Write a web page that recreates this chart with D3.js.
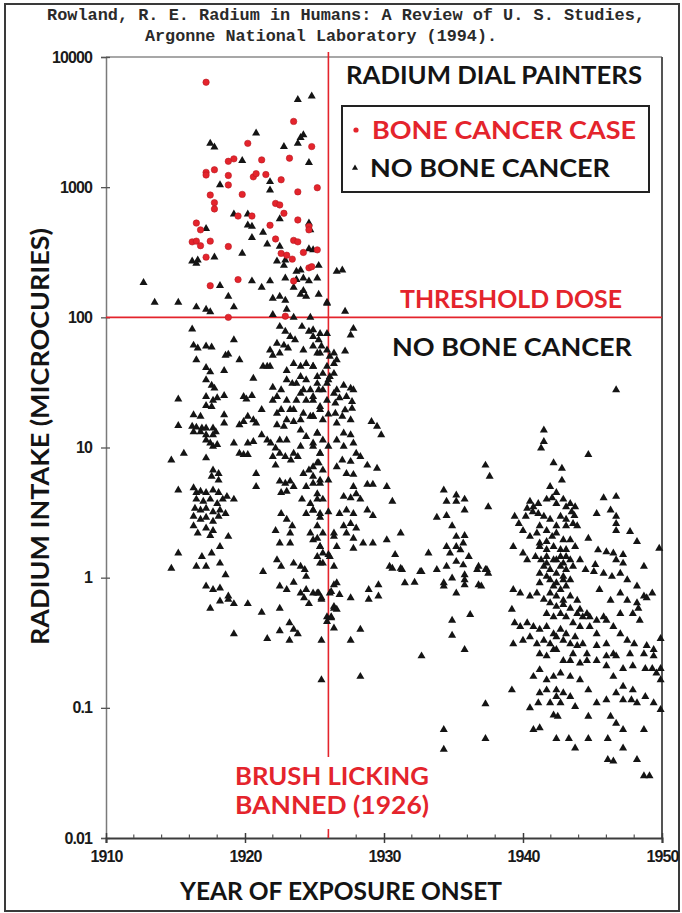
<!DOCTYPE html>
<html><head><meta charset="utf-8">
<script src="https://cdn.jsdelivr.net/npm/d3@7"></script>
<style>body{margin:0;background:#fff}svg{display:block}</style>
</head><body>
<svg id="chart" width="682" height="913"></svg>
<script>
// ---------- DATA ----------
const titleLines = ["Rowland, R. E. Radium in Humans: A Review of U. S. Studies,", "Argonne National Laboratory (1994)."];
const xTicks = [1910, 1920, 1930, 1940, 1950];
const xMinorTicks = [1912,1914,1916,1918,1922,1924,1926,1928,1932,1934,1936,1938,1942,1944,1946,1948];
const yTicks = [0.01, 0.1, 1, 10, 100, 1000, 10000];
const yTickLabels = ["0.01", "0.1", "1", "10", "100", "1000", "10000"];
const thresholdDose = 100;
const banYear = 1926;

// bone cancer cases [year of exposure onset, radium intake µCi]
const boneCancerCases = [[1917.2,6400],[1923.5,3200],[1920.2,2170],[1924.8,2050],[1923.2,1670],[1919.2,1650],[1918.8,1580],[1921.2,1620],[1917.2,1300],[1917.8,1360],[1917.2,1240],[1918.8,1230],[1918.8,1040],[1920.6,1200],[1920.8,1270],[1921.5,1250],[1922.6,1140],[1925.2,990],[1923.8,920],[1917.5,870],[1919.8,880],[1917.8,760],[1917.8,680],[1922.2,750],[1922.5,730],[1922.8,630],[1919.5,600],[1920.5,600],[1923.8,560],[1916.5,530],[1916.8,470],[1921.8,510],[1924.6,500],[1924.6,470],[1922.2,400],[1916.2,380],[1916.5,385],[1916.8,355],[1917.5,385],[1923.5,390],[1923.8,380],[1918.8,350],[1922.6,310],[1923,300],[1923.4,280],[1924.2,315],[1917.2,290],[1925.2,330],[1924.6,240],[1924.8,245],[1919.5,195],[1917.5,175],[1923.5,190],[1918.8,100],[1922.9,102]];

// no bone cancer, onset 1912-1919
const noCancerEarly = [[1912.7,185],[1913.5,130],[1915.2,130],[1916.5,120],[1917.2,115],[1917.5,110],[1918.8,145],[1919.2,120],[1917.5,2170],[1917.8,2030],[1919.8,1600],[1918.2,1040],[1919.2,620],[1917.2,480],[1919.8,310],[1917.8,290],[1916.2,270],[1916.6,275],[1916.5,260],[1918.2,175],
[1916.2,81],[1916.3,61],[1916.6,58],[1917.2,60],[1917.6,59],[1916.5,47],[1917.2,41],[1917.5,38],[1918.5,39],[1917.2,33],[1917.6,30],[1917.8,28.5],[1917.2,24.6],[1917.7,23],[1918,24],[1915.2,23.5],[1918.5,25],[1917.2,21],[1917.6,20.6],[1916.3,17.8],[1916.8,17.3],[1915.2,14.7],[1916.2,14.5],[1916.5,14.3],[1916.9,14.1],[1917.2,14.1],[1917.7,14.1],[1917.9,13.2],[1916.3,13.2],[1916.8,13.2],[1917.2,12.5],[1917.7,12.5],[1918.5,17.8],[1918.5,15.4],[1917.2,11.4],[1917.5,10.8],[1917.7,10.2],[1918,10.5],[1914.7,8],[1915.6,9],[1917.2,8.3],[1917.7,6.7],[1918.1,6.3],[1917.6,6],[1918.1,5.6],[1915.2,4.7],[1916.3,4.9],[1916.5,4.5],[1916.8,4.6],[1917.2,4.5],[1917.7,4.7],[1918.1,4.5],[1918.7,4.2],[1919.2,4],[1916.5,4],[1917,3.85],[1917.5,4],[1918,3.7],[1918.4,4],[1916.4,3.4],[1916.8,3.3],[1917.2,3.4],[1917.7,3.2],[1918.2,3.3],[1918.6,3.1],[1916.3,2.95],[1916.8,2.8],[1917.2,2.9],[1917.7,2.7],[1918.1,2.95],[1916.3,2.5],[1916.6,2.2],[1917.2,2.4],[1917.7,2.3],[1917.5,2.1],[1918.8,2.07],[1918.2,1.73],[1915.2,1.54],[1914.7,1.18],[1916.5,1.22],[1916.9,1.45],[1917.2,1.22],[1917.6,1.54],[1918.2,1.29],[1918.6,1.05],[1917.2,0.86],[1917.7,0.81],[1918.2,0.83],[1918.8,0.72],
[1919.2,67],[1919.6,47],[1918.6,51],[1918.8,52],[1919.9,24.6],[1919.6,14.9],[1919.9,15.8],[1919.2,10.8],[1919.6,9],[1919.9,8.8],
[1917.5,0.58],[1918.2,0.66],[1918.8,0.68],[1919.2,0.63],[1919.2,0.37]];

// no bone cancer, onset 1920-1926
const noCancerMid = [[1923.8,4700],[1924.8,5000],[1920.8,2600],[1922.8,2050],[1924,2400],[1924.2,2520],[1923.8,2170],[1924.6,1540],[1921.8,1100],[1921.8,950],[1920.2,620],[1920.2,510],[1920.5,500],[1921.3,450],[1920.5,410],[1922.5,570],[1924.6,530],[1924.7,470],[1921.6,365],[1922.5,350],[1924.6,335],[1924.9,330],[1922.3,270],[1922.8,250],[1922.9,275],[1923.7,225],[1924,230],[1925.3,250],[1922.9,200],[1923.7,195],[1924.2,200],[1924.6,190],[1925.2,200],[1920.5,190],[1921.2,170],[1921.8,190],[1922,140],[1922.5,145],[1922.9,135],[1923.5,170],[1924,150],[1924.2,160],[1924.4,145],[1925.3,150],[1922,105],[1923,115],[1923.5,100],[1924.7,100],[1925.9,130],
[1920.6,34],[1920.1,23.5],[1920.5,25],[1921.2,19.5],[1920.2,17.3],[1920.6,16.3],[1920.8,15.4],[1920.2,10.8],[1920.6,11.1],[1920.2,8.8],[1920.8,6.3],[1920.8,5],[1921.2,12.5],[1921.6,11.4],[1921.85,10.8],[1922.2,9.9],[1922.5,9],[1922.9,8.5],[1923.3,8],[1923.5,9],[1923.8,8.5],[1921.3,42],[1921.6,42],[1921.8,42],[1922,29],[1922,23],[1922.3,24.6],[1922.6,27.7],[1922.3,18.3],[1922.6,19.5],[1922.3,14.9],[1922.8,14.5],[1923,16.3],[1923.5,15.8],[1923.5,19.5],[1924,16.3],[1924.2,18.3],[1924.7,17.3],[1923,33],[1923.4,31],[1924,35],[1924.4,33],[1924,26],[1924.7,27.7],[1924.4,23],[1924.9,23],[1923.5,44],[1924,42],[1924.4,44],[1924.9,42],[1922.5,85],[1922.9,78],[1923.25,71],[1923.6,67],[1924.1,85],[1924.6,78],[1924.9,71],[1925.3,67],[1922.3,63],[1922.8,61],[1923.1,58],[1922,51],[1922.5,53],[1924.2,56],[1925.2,53],[1925.5,60],[1925.9,75],[1925.9,56],[1925.9,42],[1925.9,31],[1925.9,23],
[1922.5,5.5],[1922.9,5.3],[1923.25,5.5],[1923.5,5],[1922.6,4.5],[1923,4.6],[1922.2,7.3],[1924.2,6.3],[1924.6,6.7],[1924.9,7.1],[1925.3,7.6],[1925.4,9],[1924.4,5],[1924.9,5.3],[1925.4,5.6],[1924.1,4],[1924.7,3.7],[1925.2,4],[1924.4,3.1],[1924.9,3.3],[1925.4,3.1],[1922.6,3.1],[1923,2.8],[1923.4,2.5],[1923.25,2.2],[1922.2,2.3],[1922.5,1.84],[1923.25,1.84],[1923.5,1.29],[1924,1.22],[1924.3,1.15],[1924.4,1.02],[1922.3,1.37],[1922.6,1.22],[1921.3,1.11],[1924.7,2.2],[1925.2,2],[1925.4,1.73],[1925.6,1.54],[1925.4,1.29],[1922.5,0.86],[1923,0.81],[1923.5,0.92],[1924,0.76],[1924.4,0.81],[1924.9,0.76],
[1921.8,56],[1923,39],[1923.7,31],[1924.2,27.7],[1923,23],[1923.7,23],[1923.25,19.5],[1924,13.6],[1924.4,12.1],[1924.9,10.8],[1923,11.4],[1922.5,11.4],[1922,8.5],[1924,10.2],[1925.2,12.9],[1925.4,19.5],[1925.3,27.7],[1925.2,35],[1924.9,17.3],
[1920.2,0.63],[1921.2,0.54],[1921.6,0.34],[1922.5,0.58],[1923.2,0.45],[1922.5,0.39],[1923.5,0.4],[1923.2,0.33],[1923.8,0.37],[1924.25,0.7],[1924.6,0.63],[1925.3,0.76],[1925.5,0.7],[1925.5,0.33],[1925.5,0.164],[1925.9,0.46],
[1924.9,80],[1925.4,75],[1924.9,60],[1925.4,53],[1924.9,42],[1925.6,37],[1925.2,31],[1925.6,27.7],[1924.9,24.6],[1925.4,20.6],[1924.9,17.3],[1925.6,16.3],[1925.2,12.9],[1925.6,11.4],[1924.9,10.2],[1925.4,9],[1925.2,7.6],[1925.6,6.7],[1924.9,6],[1925.4,5.3],[1925.2,4.4],[1925.6,4],[1924.9,3.3],[1925.4,2.9],[1925.2,2.5],[1925.6,2.2],[1924.9,1.95],[1925.4,1.73],[1925.2,1.45],[1925.6,1.29],
[1925.9,128],[1925.2,0.76],[1925.5,0.68],[1925.9,0.5]];

// no bone cancer, onset 1926-1938
const noCancerLate = [[1926.6,225],[1927,230],[1926.1,50],[1926.4,44],[1926.1,35],[1926.4,26],[1926.4,2.07],[1926.6,1.73],[1926.1,1.45],[1926.4,1.22],[1926.6,0.91],[1926.1,0.76],[1926.2,0.5],[1926.4,0.58],[1926.4,0.41],
[1927.2,111],[1927.8,82],[1927.6,73],[1927.2,55],[1926.4,53],[1926.6,47],[1926.4,37],[1927.1,30],[1927.6,28.5],[1927.8,27.7],[1926.6,27.7],[1926.8,24],[1927.3,24.6],[1927.7,22.5],[1926.5,21.9],[1927.2,19.4],[1927.7,20],[1926.5,18.3],[1927,17.3],[1927.6,16.3],[1926.6,15.4],[1929.1,15.8],[1929.5,14.5],[1929.8,12.5],[1927.1,12.9],[1927.6,12.5],[1927.8,10.8],[1927.1,10.2],[1926.6,11.4],[1928,9],[1928.3,8.5],[1927.6,7.8],[1927,8],[1926.6,7.1],[1928.8,7.3],[1929.5,6.9],[1927.3,6.3],[1927.8,6.2],[1928.8,5.2],[1929.2,5.2],[1930.2,5],[1930.6,3.85],[1927.8,5],[1928,4.4],[1927.1,4.2],[1927.6,4.1],[1928.3,4],[1927.3,3.3],[1927.8,3.1],[1928.8,3.3],[1929.2,3],[1926.8,3.1],[1927.6,2.6],[1927.1,2.5],[1928,2.4],[1927.3,2.2],[1927.8,2],[1928.5,1.84],[1929.2,1.84],[1930.2,1.95],[1931.2,2.2],[1927.8,1.68],[1926.4,2.2],[1930.8,1.5],[1930.4,1.22],[1931.2,1.18],[1932.6,1.11],[1933.2,1.54],[1933.8,1.15],[1934.5,1.22],[1935.2,1.73],[1935.7,1.84],[1934.3,4.7],[1934.5,3.85],[1935.2,4.3],[1935.8,4],[1935.2,3.85],[1933.8,2.9],[1934.5,3],[1935.8,3.3],[1934.9,2.5],[1935.2,2.07],[1935.8,2.1],[1934.5,1.73],[1934.75,1.54],[1935.5,1.63],[1936.1,1.45],[1935.2,1.33],[1935.7,1.25],[1937.3,7.3],[1937.6,6],[1937.5,3.5],[1936.7,1.15],
[1926,33],[1926,18],[1926,10.2],[1926,5.6],[1926,3.2],[1926,1.5],
[1926.4,0.88],[1926.2,0.78],[1926.8,0.74],[1927.6,0.7],[1926.4,0.6],[1926.6,0.57],[1926.2,0.49],[1927.6,0.33],[1928.3,0.4],[1928.3,0.174],[1928.9,0.81],[1928.9,0.68],[1929.6,0.88],[1929.6,0.72],[1930.6,1.18],[1931.3,1.15],[1931.5,0.91],[1932.2,0.92],[1932.7,1.11],[1934.3,0.91],[1934.3,0.86],[1934.9,0.99],[1935.2,0.76],[1935.8,1.05],[1935.8,0.96],[1935.8,0.88],[1936.8,1.22],[1936.8,0.88],[1937.4,1.15],[1934.9,0.47],[1936.2,0.52],[1934.9,0.36],[1935.8,0.28],[1932.7,0.25],[1937.3,0.107],[1937.3,0.058],[1934.3,0.068],[1934.3,0.048],[1937.5,1.08],[1937,0.86]];

// no bone cancer, onset 1938-1950
const noCancer1940s = [[1946.7,27.7],[1941.5,13.6],[1941.3,9.9],[1941.5,11.1],[1944.7,8.8],[1942.2,7.6],[1942.8,6.9],[1942.8,5.6],[1941.95,5],[1942.4,4.5],[1942.9,4],[1943.4,3.7],[1943.75,3.5],[1940.5,3.85],[1940.3,3.4],[1940.7,3.2],[1941.1,3.1],[1940.2,2.95],[1939.4,2.95],[1939.7,2.6],[1941.5,2.95],[1941.95,2.8],[1942.7,2.95],[1943.1,2.8],[1943.7,3],[1943.6,2.6],[1945.8,4.1],[1946.7,4.2],[1945.3,3.1],[1946.3,3.3],[1946.7,2.95],[1946.7,2.6],[1946.7,2.3],[1947.7,2.26],[1948.2,1.89],[1944.7,2],[1945.4,1.63],[1946,1.58],[1946.5,1.54],[1947.2,1.5],[1946.7,1.37],[1947.2,1.29],[1949.8,1.68],[1948.7,1.22],[1939.3,1.73],[1940,1.54],[1940.5,2.07],[1940,2.3],[1941,2.2],[1941.2,1.84],[1941.7,1.89],[1942.1,2.07],[1942.4,2.2],[1942.9,1.95],[1943.4,1.95],[1943.75,1.73],[1944.1,1.37],[1944.5,1.15],[1945.1,1.11],[1943.6,1.22],[1940.3,1.37],[1940.9,1.45],[1941.3,1.37],[1941.7,1.29],[1942.4,1.37],[1942.9,1.29],[1943.4,1.37],[1941.2,1.08],[1941.7,1.02],[1942.4,1.08],[1942.9,0.96],[1941.2,0.91],[1942.2,0.86],[1942.7,0.81],[1943.1,0.86],[1939.3,0.81],[1939.8,0.76],[1940.5,0.72],[1941,0.76],[1941.5,0.68],[1941.95,0.64],[1942.4,0.6],[1942.9,0.62],[1943.4,0.58],[1943.9,0.53],[1944.3,0.5],[1944.8,0.5],[1945.3,0.47],[1945.8,0.5],[1946,0.47],[1946.5,0.42],[1947,0.37],[1947.5,0.33],[1948,0.31],[1948.9,0.3],[1949.4,0.28],[1948.7,0.72],[1948.9,0.7],[1949.3,0.76],[1948.2,0.64],[1948.3,0.58],[1949.9,0.34],[1939.2,0.57],[1939.4,0.45],[1939.8,0.42],[1940.3,0.45],[1940.75,0.42],[1941.2,0.4],[1939.3,0.31],[1940,0.33],[1940.5,0.35],[1941,0.31],[1941.5,0.33],[1941.95,0.31],[1942.4,0.35],[1942.9,0.33],[1943.4,0.31],[1943.9,0.3],[1944.3,0.31],[1941.2,0.26],[1941.7,0.25],[1942.2,0.28],[1942.9,0.23],[1943.6,0.26],[1944.6,0.26],[1945.3,0.23],[1946,0.25],[1946,0.21],[1946.7,0.25],[1947.2,0.2],[1946.5,0.174],[1947.9,0.21],[1948.8,0.2],[1949.3,0.2],[1949.6,0.185],[1949.9,0.2],[1939.2,0.137],[1941.2,0.13],[1941.7,0.137],[1942.4,0.122],[1942.9,0.13],[1943.4,0.122],[1943.75,0.102],[1942.7,0.109],[1941.95,0.109],[1941.1,0.109],[1940.5,0.1],[1944.7,0.137],[1945.3,0.109],[1944.7,0.086],[1946,0.115],[1946.7,0.13],[1947.2,0.115],[1947.8,0.115],[1948.2,0.109],[1949.9,0.097],[1946.3,0.086],[1946.7,0.076],[1947.2,0.068],[1948.7,0.068],[1940.75,0.068],[1941.2,0.07],[1942.4,0.058],[1943.3,0.058],[1943.75,0.049],[1944.7,0.058],[1946.1,0.058],[1942.2,0.088],[1942.5,0.086],[1946.1,0.04],[1946.5,0.039],[1947.2,0.049],[1948.2,0.04],[1948.7,0.03],[1949.1,0.03],[1949.9,0.164],
[1940.75,3.5],[1941.1,3.7],[1941.7,4],[1942.1,4.1],[1942.4,3.7],[1943.1,3.5],[1943.5,3.2],[1941.2,2.5],[1941.7,2.3],[1942.4,2.5],[1943.1,2.5],[1943.9,2.5],[1941.2,1.73],[1941.7,1.64],[1942.2,1.73],[1942.7,1.64],[1943.1,1.64],[1941.7,1.45],[1942.2,1.37],[1942.7,1.45],[1943.1,1.45],[1941.5,1.22],[1941.95,1.15],[1942.7,1.22],[1943.1,1.15],[1941.95,0.96],[1942.4,0.91],[1942.9,1.02],[1943.4,0.96],[1941.95,0.76],[1942.4,0.72],[1942.9,0.67],[1943.4,0.72],[1943.9,0.67],[1944.1,0.57],[1944.6,0.53],[1941.7,0.53],[1942.2,0.5],[1942.7,0.53],[1943.1,0.5],[1943.6,0.45],[1944.1,0.42],[1944.8,0.42],[1945.3,0.37],[1941.7,0.42],[1942.2,0.37],[1942.7,0.4],[1943.1,0.37],[1943.75,0.35],[1942.4,0.28],[1943.4,0.23],[1944.1,0.22],[1944.6,0.23],[1942.2,0.174],[1942.7,0.185],[1943.4,0.174],[1944.1,0.164],[1942.4,0.137],[1941.7,0.164],[1941.2,0.196],[1940.75,0.174],
[1945.2,1.26],[1945.8,1.08],[1946.4,1.02],[1947,1.08],[1947.5,0.96],[1948.2,0.86],[1947,0.76],[1947.5,0.67],[1945.5,0.81],[1946.3,0.67],[1947.9,0.53],[1948.4,0.47],[1947,0.53],[1945.3,0.3],[1946,0.31],[1946.5,0.26],[1947.7,0.26],[1948.7,0.26],[1949.4,0.25],[1947.2,0.146],[1947.9,0.137],[1948.8,0.122],[1949.4,0.109],[1937.3,1.15]];

// ---------- DRAWING ----------
const RED = "#e4242c";
const INK = "#141414";
const LABEL_FONT = "Lato, 'Open Sans', 'DejaVu Sans', sans-serif";
const svg = d3.select("#chart");
const x = d3.scaleLinear().domain([1910, 1950]).range([106, 662]);
const y = d3.scaleLog().domain([0.01, 10000]).range([838, 57]);

// outer frame
svg.append("rect").attr("x", 5).attr("y", 4).attr("width", 674).attr("height", 907)
  .attr("fill", "none").attr("stroke", "#3a3a3a").attr("stroke-width", 2);

// title (citation)
svg.append("text").attr("x", 47).attr("y", 20).text(titleLines[0])
  .attr("font-family", "'Liberation Mono', 'DejaVu Sans Mono', monospace").attr("font-size", 17).attr("font-weight", "bold")
  .attr("fill", "#2a2a2a").attr("textLength", 598).attr("lengthAdjust", "spacingAndGlyphs");
svg.append("text").attr("x", 145).attr("y", 41).text(titleLines[1])
  .attr("font-family", "'Liberation Mono', 'DejaVu Sans Mono', monospace").attr("font-size", 17).attr("font-weight", "bold")
  .attr("fill", "#2a2a2a").attr("textLength", 352).attr("lengthAdjust", "spacingAndGlyphs");

// plot frame (top and right)
svg.append("line").attr("x1", x(1910)).attr("x2", x(1950)).attr("y1", y(10000)).attr("y2", y(10000))
  .attr("stroke", "#8a8a8a").attr("stroke-width", 1.5);
svg.append("line").attr("x1", x(1950)).attr("x2", x(1950)).attr("y1", y(10000)).attr("y2", y(0.01))
  .attr("stroke", "#555").attr("stroke-width", 2);

// axes
const gy = svg.append("g").attr("transform", `translate(${x(1910)},0)`)
  .call(d3.axisLeft(y).tickValues(yTicks).tickFormat((d, i) => yTickLabels[i]).tickSize(5).tickPadding(9));
gy.attr("font-family", "'Liberation Sans', Arial, sans-serif").attr("font-size", 16).attr("font-weight", "bold");
gy.select(".domain").attr("stroke", "#7a7a7a").attr("stroke-width", 1.5);
gy.selectAll(".tick line").attr("stroke", "#555").attr("stroke-width", 1.3);
gy.selectAll(".tick").append("line").attr("x1", 0).attr("x2", 4).attr("stroke", "#555").attr("stroke-width", 1.3);
gy.selectAll(".tick text").attr("fill", "#1a1a1a").attr("letter-spacing", -0.9);

const gx = svg.append("g").attr("transform", `translate(0,${y(0.01)})`)
  .call(d3.axisBottom(x).tickValues(xTicks).tickFormat(d => String(d)).tickSize(5).tickPadding(8));
gx.attr("font-family", "'Liberation Sans', Arial, sans-serif").attr("font-size", 16).attr("font-weight", "bold");
gx.select(".domain").attr("stroke", "#3c3c3c").attr("stroke-width", 2);
gx.selectAll(".tick line").attr("stroke", "#3c3c3c").attr("stroke-width", 1.5).attr("y1", -5);
gx.selectAll(".tick text").attr("fill", "#1a1a1a").attr("letter-spacing", -0.9);
gx.selectAll(".minor").data(xMinorTicks).enter().append("line").attr("class", "minor")
  .attr("x1", d => x(d)).attr("x2", d => x(d)).attr("y1", 0).attr("y2", -3.5)
  .attr("stroke", "#555").attr("stroke-width", 1.2);

// reference lines
svg.append("line").attr("x1", x(1910)).attr("x2", x(1950)).attr("y1", y(thresholdDose)).attr("y2", y(thresholdDose))
  .attr("stroke", RED).attr("stroke-width", 1.6);
svg.append("line").attr("x1", x(banYear)).attr("x2", x(banYear)).attr("y1", y(10000) - 5).attr("y2", 757)
  .attr("stroke", RED).attr("stroke-width", 1.6);
svg.append("line").attr("x1", x(banYear)).attr("x2", x(banYear)).attr("y1", y(0.01) - 9).attr("y2", y(0.01))
  .attr("stroke", RED).attr("stroke-width", 1.6);

// points
const tri = d3.symbol().type(d3.symbolTriangle).size(28);
const allNoCancer = [].concat(noCancerEarly, noCancerMid, noCancerLate, noCancer1940s);
svg.append("g").selectAll("path").data(allNoCancer).enter().append("path")
  .attr("d", tri).attr("transform", d => `translate(${x(d[0])},${y(d[1])})`).attr("fill", INK);
svg.append("g").selectAll("circle").data(boneCancerCases).enter().append("circle")
  .attr("cx", d => x(d[0])).attr("cy", d => y(d[1])).attr("r", 3.2).attr("fill", RED)
  .attr("stroke", "#b81a22").attr("stroke-width", 0.6);

// annotation text helper
function label(txt, x0, yb, w, size, color) {
  svg.append("text").attr("x", x0).attr("y", yb).text(txt)
    .attr("font-family", LABEL_FONT).attr("font-weight", 700).attr("font-size", size)
    .attr("fill", color).attr("textLength", w).attr("lengthAdjust", "spacingAndGlyphs");
}

// legend
label("RADIUM DIAL PAINTERS", 346, 84, 296, 24, INK);
svg.append("rect").attr("x", 342).attr("y", 106).attr("width", 307).attr("height", 86)
  .attr("fill", "none").attr("stroke", "#222").attr("stroke-width", 2);
svg.append("circle").attr("cx", 356).attr("cy", 130).attr("r", 2.6).attr("fill", RED);
label("BONE CANCER CASE", 372, 139, 264, 25, RED);
svg.append("path").attr("d", d3.symbol().type(d3.symbolTriangle).size(16)).attr("transform", "translate(355,168)").attr("fill", INK);
label("NO BONE CANCER", 370, 177, 240, 25, INK);

// region annotations
label("THRESHOLD DOSE", 400, 308, 222, 24, RED);
label("NO BONE CANCER", 392, 356, 240, 24, INK);
label("BRUSH LICKING", 235, 785, 194, 24, RED);
label("BANNED (1926)", 235, 814, 194, 24, RED);

// axis titles
svg.append("text").attr("transform", "translate(49,645) rotate(-90)").text("RADIUM INTAKE (MICROCURIES)")
  .attr("font-family", LABEL_FONT).attr("font-weight", 700).attr("font-size", 25).attr("fill", INK)
  .attr("textLength", 417).attr("lengthAdjust", "spacingAndGlyphs");
svg.append("text").attr("x", 180).attr("y", 900).text("YEAR OF EXPOSURE ONSET")
  .attr("font-family", LABEL_FONT).attr("font-weight", 700).attr("font-size", 25).attr("fill", INK)
  .attr("textLength", 322).attr("lengthAdjust", "spacingAndGlyphs");
</script>
</body></html>
